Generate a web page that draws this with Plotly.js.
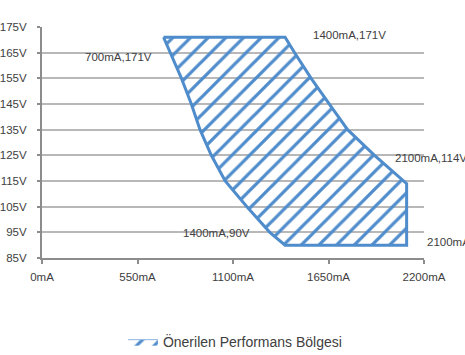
<!DOCTYPE html>
<html>
<head>
<meta charset="utf-8">
<script src="https://cdn.plot.ly/plotly-3.0.1.min.js"></script>
<style>html,body{margin:0;padding:0;background:#fff;}#chart{width:465px;height:355px;}</style>
</head>
<body>
<div id="chart"></div>
<script>
// Region boundary (mA, V), clockwise from top-left
const regionCurrent = [700, 1400, 1455, 1550, 1660, 1760, 1915, 2100, 2100, 1400, 1312, 1180, 1055, 975, 910, 860, 800, 700];
const regionVoltage = [171, 171, 165, 155, 144.5, 135, 125, 114, 90, 90, 95, 105, 115, 125, 135, 145, 155.5, 171];
const seriesName = 'Önerilen Performans Bölgesi';

// Corner labels
const labelCurrent = [700, 1400, 2100, 2100, 1400];
const labelVoltage = [171, 171, 114, 90, 90];
const labelText = ['700mA,171V', '1400mA,171V', '2100mA,114V', '2100mA,90V', '1400mA,90V'];

const xTicks = [0, 550, 1100, 1650, 2200];
const xTickText = ['0mA', '550mA', '1100mA', '1650mA', '2200mA'];
const yTicks = [85, 95, 105, 115, 125, 135, 145, 155, 165, 175];
const yTickText = ['85V', '95V', '105V', '115V', '125V', '135V', '145V', '155V', '165V', '175V'];

const FONT = '"Liberation Sans", Arial, sans-serif';
const blue = '#4F8CCB';

const fillTrace = {
  x: regionCurrent,
  y: regionVoltage,
  type: 'scatter',
  mode: 'lines',
  name: seriesName,
  fill: 'toself',
  fillcolor: 'rgba(255,255,255,0)',
  fillpattern: {shape: '/', size: 12.5, solidity: 0.26, fgcolor: blue, bgcolor: 'rgba(255,255,255,0)'},
  line: {color: '#8db4e0', width: 1},
  hoverinfo: 'skip',
  showlegend: true
};
const outlineTrace = {
  x: regionCurrent,
  y: regionVoltage,
  type: 'scatter',
  mode: 'lines',
  line: {color: blue, width: 3},
  hoverinfo: 'skip',
  showlegend: false
};

// label placement (pixel offsets)
const anchors = [
  {xanchor: 'right', yanchor: 'middle', xshift: -10, yshift: -20},
  {xanchor: 'left', yanchor: 'middle', xshift: 26, yshift: 2},
  {xanchor: 'left', yanchor: 'middle', xshift: -14, yshift: 26},
  {xanchor: 'left', yanchor: 'middle', xshift: 18, yshift: 3},
  {xanchor: 'right', yanchor: 'middle', xshift: -33, yshift: 12}
];
const annotations = labelText.map((t, i) => Object.assign({
  x: labelCurrent[i], y: labelVoltage[i], xref: 'x', yref: 'y',
  text: t, showarrow: false,
  font: {family: FONT, size: 11.5, color: '#404040'}
}, anchors[i]));

const layout = {
  width: 465, height: 355,
  margin: {l: 42, r: 41, t: 27, b: 97, autoexpand: false},
  paper_bgcolor: '#fff', plot_bgcolor: '#fff',
  font: {family: FONT, size: 11.5, color: '#404040'},
  showlegend: true,
  legend: {orientation: 'h', x: 0.505, xanchor: 'center', y: -0.364, yanchor: 'middle',
           font: {family: FONT, size: 14, color: '#404040'}},
  xaxis: {
    range: [0, 2200], tickvals: xTicks, ticktext: xTickText,
    showgrid: false, zeroline: false,
    showline: true, linecolor: '#8c8c8c', linewidth: 2,
    ticks: 'outside', ticklen: 4, tickwidth: 2, tickcolor: '#8c8c8c',
    ticklabelstandoff: 3, fixedrange: true, automargin: false
  },
  yaxis: {
    range: [85, 175], tickvals: yTicks, ticktext: yTickText,
    showgrid: true, gridcolor: '#b8b8b8', gridwidth: 2, zeroline: false,
    showline: true, linecolor: '#8c8c8c', linewidth: 2,
    ticks: 'outside', ticklen: 3, tickwidth: 2, tickcolor: '#8c8c8c',
    ticklabelstandoff: 8, fixedrange: true, automargin: false
  },
  annotations: annotations
};

Plotly.newPlot('chart', [fillTrace, outlineTrace], layout, {displayModeBar: false, staticPlot: true});
</script>
</body>
</html>
